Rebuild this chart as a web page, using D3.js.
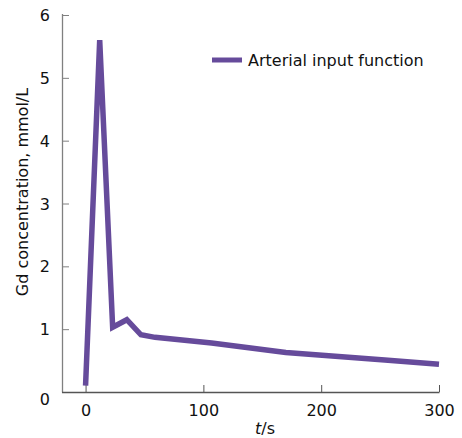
<!DOCTYPE html>
<html><head><meta charset="utf-8">
<script src="https://cdn.jsdelivr.net/npm/d3@7/dist/d3.min.js"></script>
<style>
body{margin:0;background:#fff;}
svg{display:block;font-family:"DejaVu Sans",Verdana,sans-serif;}
</style></head>
<body><svg id="c" width="462" height="438"></svg>
<script>
const timeS = [0, 12, 23, 35, 47, 59, 107, 170, 254, 300];
const gdConc = [0.1, 5.6, 1.03, 1.15, 0.91, 0.87, 0.78, 0.63, 0.51, 0.44];
const xTicks = [0, 100, 200, 300];
const yTicks = [0, 1, 2, 3, 4, 5, 6];
const seriesName = "Arterial input function";
const lineColor = "#664b9b";

const svg = d3.select("#c");
const x = d3.scaleLinear().domain([-20, 300]).range([62, 439]);
const y = d3.scaleLinear().domain([0, 6]).range([392, 15]);

const fs = 16;
// y axis
const ya = svg.append("g").attr("transform","translate(62,0)")
  .call(d3.axisRight(y).tickValues(yTicks).tickSize(7).tickFormat(d3.format("d")));
ya.select(".domain").attr("stroke","#808080").attr("stroke-width",1.3).attr("d","M0.5,14V392.5");
ya.selectAll(".tick line").attr("stroke","#808080");
ya.selectAll(".tick text").attr("x",-12).attr("text-anchor","end")
  .attr("font-size",fs).attr("fill","#111").attr("font-family","DejaVu Sans")
  .attr("dy", d => d===0 ? "0.75em" : "0.35em");

// x axis
const xa = svg.append("g").attr("transform","translate(0,392)")
  .call(d3.axisTop(x).tickValues(xTicks).tickSize(7).tickFormat(d3.format("d")));
xa.select(".domain").attr("stroke","#555").attr("stroke-width",1.3).attr("d","M62,0.5H439.5");
xa.selectAll(".tick line").attr("stroke","#555");
xa.selectAll(".tick text").attr("y",24).attr("dy",0).attr("text-anchor","middle")
  .attr("font-size",fs).attr("fill","#111").attr("font-family","DejaVu Sans");

// line
const data = timeS.map((t,i)=>({t, v: gdConc[i]}));
svg.append("path").datum(data)
  .attr("fill","none").attr("stroke",lineColor).attr("stroke-width",5.5)
  .attr("stroke-linejoin","miter").attr("stroke-miterlimit",20)
  .attr("d", d3.line().x(d=>x(d.t)).y(d=>y(d.v)));

// legend
svg.append("line").attr("x1",212).attr("x2",242).attr("y1",60).attr("y2",60)
  .attr("stroke",lineColor).attr("stroke-width",5);
svg.append("text").attr("x",248).attr("y",66).attr("font-size",fs).attr("fill","#111")
  .text(seriesName);

// axis titles
svg.append("text").attr("transform","translate(28,192) rotate(-90)")
  .attr("text-anchor","middle").attr("font-size",fs).attr("fill","#111")
  .text("Gd concentration, mmol/L");
const xt = svg.append("text").attr("x",265).attr("y",434).attr("text-anchor","middle")
  .attr("font-size",fs).attr("fill","#111");
xt.append("tspan").attr("font-style","italic").text("t");
xt.append("tspan").text("/s");
</script></body></html>
